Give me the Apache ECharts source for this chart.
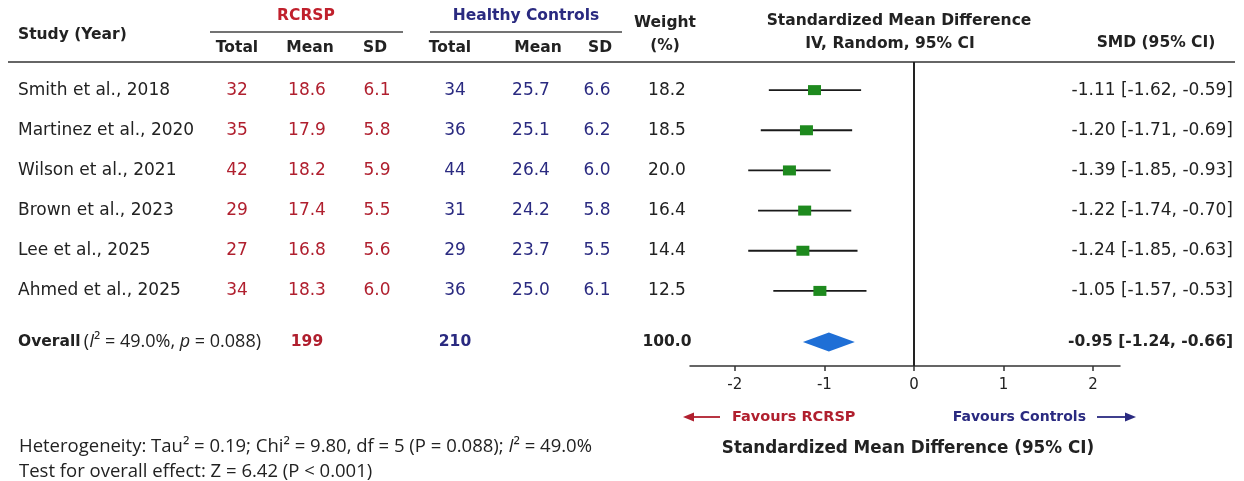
<!DOCTYPE html>
<html>
<head>
<meta charset="utf-8">
<script src="https://cdn.jsdelivr.net/npm/echarts@6/dist/echarts.min.js"></script>
<style>
  html, body { margin: 0; padding: 0; background: #fff; }
  #chart { width: 1244px; height: 481px; }
</style>
</head>
<body>
<div id="chart"></div>
<script>
// ---- data ----
const studies = ['Smith et al., 2018', 'Martinez et al., 2020', 'Wilson et al., 2021',
  'Brown et al., 2023', 'Lee et al., 2025', 'Ahmed et al., 2025'];
const rcrspTotal = [32, 35, 42, 29, 27, 34];
const rcrspMean = [18.6, 17.9, 18.2, 17.4, 16.8, 18.3];
const rcrspSD = [6.1, 5.8, 5.9, 5.5, 5.6, 6.0];
const ctrlTotal = [34, 36, 44, 31, 29, 36];
const ctrlMean = [25.7, 25.1, 26.4, 24.2, 23.7, 25.0];
const ctrlSD = [6.6, 6.2, 6.0, 5.8, 5.5, 6.1];
const weights = [18.2, 18.5, 20.0, 16.4, 14.4, 12.5];
const smd = [-1.11, -1.20, -1.39, -1.22, -1.24, -1.05];
const ciLow = [-1.62, -1.71, -1.85, -1.74, -1.85, -1.57];
const ciHigh = [-0.59, -0.69, -0.93, -0.70, -0.63, -0.53];
const overallTotals = [199, 210];
const overallWeight = [100.0];
const overallSMD = [-0.95, -1.24, -0.66]; // estimate, lower, upper
const xTicks = [-2, -1, 0, 1, 2];

// ---- layout ----
const rowPos = [0, 1, 2, 3, 4, 5];
const overallPos = 6.27;
const colX = { study: 18, rT: 237, rM: 307, rS: 377, cT: 455, cM: 531, cS: 597, wt: 667, smd: 1233 };
const RED = '#b01f2e', NAVY = '#2a2a80', INK = '#222';
const SANS = '"DejaVu Sans", Verdana, sans-serif';
const ALT = '"Open Sans", sans-serif';

const chart = echarts.init(document.getElementById('chart'));

const txt = (x, y, text, fill, font, align) => ({
  type: 'text', x, y,
  style: { text, fill, font, align: align || 'center', textAlign: align || 'center',
    verticalAlign: 'middle', textVerticalAlign: 'middle' }
});

function tableRow(params, api) {
  const i = params.dataIndex;
  const y = api.coord([0, rowPos[i]])[1];
  const X = v => api.coord([v, rowPos[i]])[0];
  const f = '17px ' + SANS;
  return {
    type: 'group',
    children: [
      txt(X(colX.study), y, studies[i], INK, f, 'left'),
      txt(X(colX.rT), y, String(rcrspTotal[i]), RED, f),
      txt(X(colX.rM), y, rcrspMean[i].toFixed(1), RED, f),
      txt(X(colX.rS), y, rcrspSD[i].toFixed(1), RED, f),
      txt(X(colX.cT), y, String(ctrlTotal[i]), NAVY, f),
      txt(X(colX.cM), y, ctrlMean[i].toFixed(1), NAVY, f),
      txt(X(colX.cS), y, ctrlSD[i].toFixed(1), NAVY, f),
      txt(X(colX.wt), y, weights[i].toFixed(1), INK, f),
      txt(X(colX.smd), y, smd[i].toFixed(2) + ' [' + ciLow[i].toFixed(2) + ', ' + ciHigh[i].toFixed(2) + ']', INK, f, 'right')
    ]
  };
}

function overallRow(params, api) {
  const y = api.coord([0, overallPos])[1];
  const X = v => api.coord([v, overallPos])[0];
  const fb = 'bold 15.5px ' + SANS;
  return {
    type: 'group',
    children: [
      {
        type: 'text', x: X(colX.study), y,
        style: {
          text: '{b|Overall} {n|(}{i|I}{n|² = 49.0%, }{i|p}{n| = 0.088)}',
          align: 'left', verticalAlign: 'middle', textAlign: 'left', textVerticalAlign: 'middle',
          rich: {
            b: { font: 'bold 15.5px ' + SANS, fill: INK },
            n: { font: '18px ' + ALT, fill: INK },
            i: { font: 'italic 18px ' + ALT, fill: INK }
          }
        }
      },
      txt(X(colX.rM), y, String(overallTotals[0]), RED, fb),
      txt(X(colX.cT), y, String(overallTotals[1]), NAVY, fb),
      txt(X(colX.wt), y, overallWeight[0].toFixed(1), INK, fb),
      txt(X(colX.smd), y, overallSMD[0].toFixed(2) + ' [' + overallSMD[1].toFixed(2) + ', ' + overallSMD[2].toFixed(2) + ']', INK, fb, 'right')
    ]
  };
}

function ciItem(params, api) {
  const i = params.dataIndex;
  const a = api.coord([ciLow[i], rowPos[i]]);
  const b = api.coord([ciHigh[i], rowPos[i]]);
  const c = api.coord([smd[i], rowPos[i]]);
  return {
    type: 'group',
    children: [
      { type: 'line', shape: { x1: a[0], y1: a[1], x2: b[0], y2: b[1] }, style: { stroke: '#1a1a1a', lineWidth: 1.8 } },
      { type: 'rect', shape: { x: c[0] - 6.5, y: c[1] - 5, width: 13, height: 10 }, style: { fill: '#1e8a1e' } }
    ]
  };
}

function diamond(params, api) {
  const lo = api.coord([overallSMD[1], overallPos]);
  const mid = api.coord([overallSMD[0], overallPos]);
  const hi = api.coord([overallSMD[2], overallPos]);
  return {
    type: 'polygon',
    shape: { points: [[lo[0], lo[1]], [mid[0], mid[1] - 9.5], [hi[0], hi[1]], [mid[0], mid[1] + 9.5]] },
    style: { fill: '#1f6fd6' }
  };
}

const yAxisCfg = { type: 'value', inverse: true, min: -0.7, max: 6.87, show: false };

const hdr = 'bold 15.5px ' + SANS;
const graphics = [
  txt(18, 35, 'Study (Year)', INK, hdr, 'left'),
  txt(306, 16, 'RCRSP', '#c0202c', hdr),
  txt(526, 16, 'Healthy Controls', NAVY, hdr),
  txt(237, 48, 'Total', INK, hdr),
  txt(310, 48, 'Mean', INK, hdr),
  txt(375, 48, 'SD', INK, hdr),
  txt(450, 48, 'Total', INK, hdr),
  txt(538, 48, 'Mean', INK, hdr),
  txt(600, 48, 'SD', INK, hdr),
  txt(665, 23, 'Weight', INK, hdr),
  txt(665, 46, '(%)', INK, hdr),
  txt(899, 21, 'Standardized Mean Difference', INK, hdr),
  txt(890, 44, 'IV, Random, 95% CI', INK, hdr),
  txt(1156, 43, 'SMD (95% CI)', INK, hdr),
  { type: 'line', shape: { x1: 210, y1: 32, x2: 403, y2: 32 }, style: { stroke: '#444', lineWidth: 1.5 } },
  { type: 'line', shape: { x1: 430, y1: 32, x2: 622, y2: 32 }, style: { stroke: '#444', lineWidth: 1.5 } },
  { type: 'line', shape: { x1: 8, y1: 62, x2: 1235, y2: 62 }, style: { stroke: '#666', lineWidth: 2 } },
  // favours arrows
  { type: 'line', shape: { x1: 690, y1: 417, x2: 720, y2: 417 }, style: { stroke: RED, lineWidth: 1.8 } },
  { type: 'polygon', shape: { points: [[683, 417], [694, 412.5], [694, 421.5]] }, style: { fill: RED } },
  txt(732, 417, 'Favours RCRSP', RED, 'bold 14.5px ' + SANS, 'left'),
  txt(1086, 417, 'Favours Controls', NAVY, 'bold 14px ' + SANS, 'right'),
  { type: 'line', shape: { x1: 1097, y1: 417, x2: 1128, y2: 417 }, style: { stroke: NAVY, lineWidth: 1.8 } },
  { type: 'polygon', shape: { points: [[1136, 417], [1125, 412.5], [1125, 421.5]] }, style: { fill: NAVY } },
  txt(908, 449, 'Standardized Mean Difference (95% CI)', INK, 'bold 16.8px ' + SANS),
  {
    type: 'text', x: 19, y: 447,
    style: {
      text: '{n|Heterogeneity: Tau² = 0.19; Chi² = 9.80, df = 5 (P = 0.088); }{i|I}{n|² = 49.0%}',
      align: 'left', verticalAlign: 'middle', textAlign: 'left', textVerticalAlign: 'middle',
      rich: { n: { font: '18.5px ' + ALT, fill: INK }, i: { font: 'italic 18.5px ' + ALT, fill: INK } }
    }
  },
  txt(19, 472, 'Test for overall effect: Z = 6.42 (P < 0.001)', INK, '18.5px ' + ALT, 'left')
];

const option = {
  backgroundColor: '#fff',
  animation: false,
  graphic: { elements: graphics },
  grid: [
    { left: 690, width: 430, top: 62, height: 304, outerBoundsMode: 'none' },
    { left: 0, width: 1244, top: 62, height: 304, outerBoundsMode: 'none' }
  ],
  xAxis: [
    {
      type: 'value', gridIndex: 0, min: -2.5, max: 2.3,
      splitLine: { show: false },
      axisLine: { show: true, onZero: false, lineStyle: { color: '#333', width: 1.5 } },
      axisTick: { show: true, customValues: xTicks, length: 5, lineStyle: { color: '#333', width: 1.5 } },
      axisLabel: { customValues: xTicks, color: INK, fontSize: 15, fontFamily: SANS, margin: 12 }
    },
    { type: 'value', gridIndex: 1, min: 0, max: 1244, show: false }
  ],
  yAxis: [
    Object.assign({ gridIndex: 0 }, yAxisCfg),
    Object.assign({ gridIndex: 1 }, yAxisCfg)
  ],
  series: [
    {
      type: 'custom', xAxisIndex: 0, yAxisIndex: 0, clip: false,
      data: smd.map((v, i) => [v, rowPos[i]]),
      renderItem: ciItem,
      markLine: {
        silent: true, symbol: 'none', label: { show: false },
        lineStyle: { color: INK, width: 2, type: 'solid' },
        data: [{ xAxis: 0 }]
      }
    },
    {
      type: 'custom', xAxisIndex: 0, yAxisIndex: 0, clip: false,
      data: [[overallSMD[0], overallPos]],
      renderItem: diamond
    },
    {
      type: 'custom', xAxisIndex: 1, yAxisIndex: 1, clip: false,
      data: rowPos.map(p => [0, p]),
      renderItem: tableRow
    },
    {
      type: 'custom', xAxisIndex: 1, yAxisIndex: 1, clip: false,
      data: [[0, overallPos]],
      renderItem: overallRow
    }
  ]
};

chart.setOption(option);
</script>
</body>
</html>
